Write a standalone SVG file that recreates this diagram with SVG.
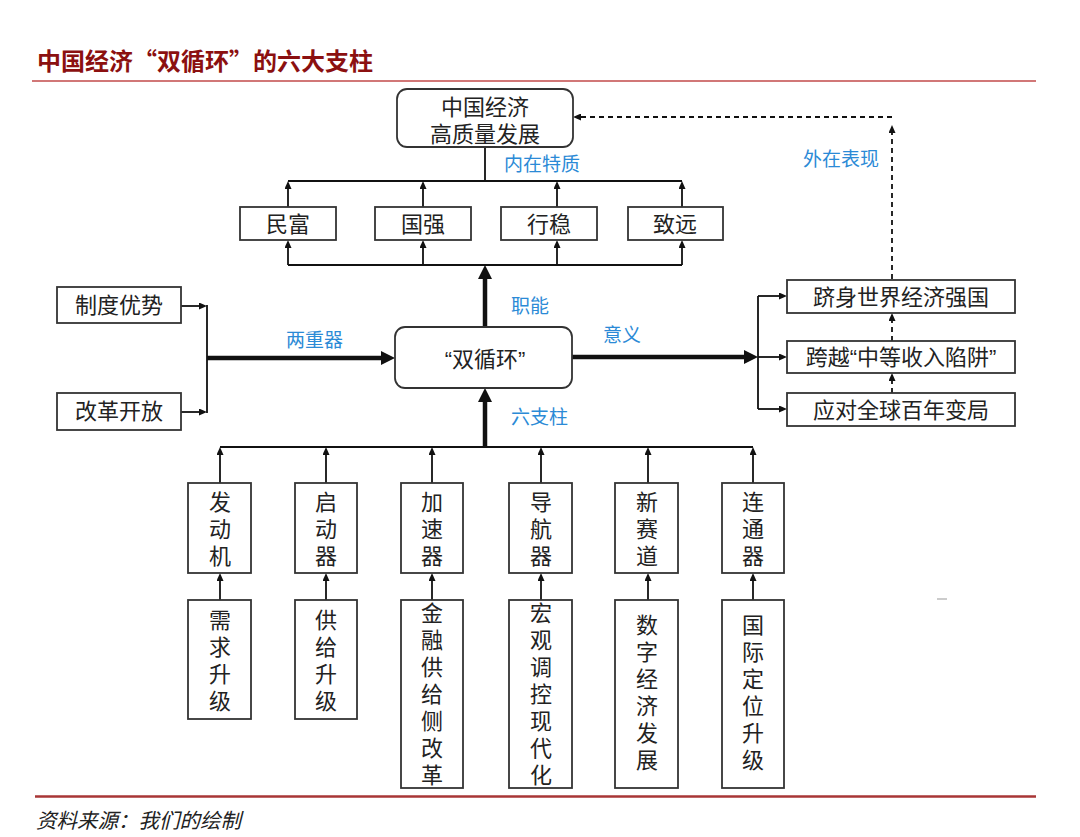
<svg xmlns="http://www.w3.org/2000/svg" width="1080" height="837" viewBox="0 0 1080 837">
<defs>
<style>
.box{fill:#fff;stroke:#333;stroke-width:1.8}
.t{font-family:"Liberation Sans","Noto Sans CJK SC",sans-serif;font-size:22px;fill:#222;text-anchor:middle}
.lb{font-family:"Noto Sans CJK SC",sans-serif;font-size:19px;fill:#2b8ad6}
.c{fill:none;stroke:#111;stroke-width:1.8}
.thin{marker-end:url(#ah)}
.thick{fill:none;stroke:#111;stroke-width:4.5;marker-end:url(#ahb)}
.dash{fill:none;stroke:#111;stroke-width:1.8;stroke-dasharray:5,4;marker-end:url(#ah)}
</style>
<marker id="ah" markerUnits="userSpaceOnUse" markerWidth="8" markerHeight="7" refX="0" refY="3.5" orient="auto"><path d="M0,0 L8,3.5 L0,7 z" fill="#111"/></marker>
<marker id="ahb" markerUnits="userSpaceOnUse" markerWidth="14" markerHeight="14" refX="0" refY="7" orient="auto"><path d="M0,0 L14,7 L0,14 z" fill="#111"/></marker>
</defs>
<rect width="1080" height="837" fill="#fff"/>
<text x="37" y="70" font-family="'Noto Sans CJK SC',sans-serif" font-size="24" font-weight="bold" fill="#8b1010">中国经济“双循环”的六大支柱</text>
<line x1="32" y1="81" x2="1036" y2="81" stroke="#c24a4a" stroke-width="1.5"/>
<line x1="35" y1="796.5" x2="1036" y2="796.5" stroke="#a83636" stroke-width="2.5"/>
<text x="36" y="828" font-family="'Noto Sans CJK SC',sans-serif" font-size="20.5" font-style="italic" fill="#222">资料来源：我们的绘制</text>
<line x1="937" y1="599" x2="947" y2="599" stroke="#bbb" stroke-width="1.5"/>

<g id="connectors">
<path class="c" d="M485,147 V181 M288,181 H682 M288,265 H682 M207,305 V413 M758,296 V409 M220,447 H753"/>
<path class="c thin" d="M288,207 V189"/>
<path class="c thin" d="M423,207 V189"/>
<path class="c thin" d="M557,207 V189"/>
<path class="c thin" d="M682,207 V189"/>
<path class="c thin" d="M288,265 V248"/>
<path class="c thin" d="M423,265 V248"/>
<path class="c thin" d="M557,265 V248"/>
<path class="c thin" d="M682,265 V248"/>
<path class="thick" d="M485,327 V279"/>
<path class="c thin" d="M181,306 H199"/>
<path class="c thin" d="M181,412 H199"/>
<path class="thick" d="M207,358 H381"/>
<path class="thick" d="M572,357 H744"/>
<path class="c thin" d="M758,296 H779"/>
<path class="c thin" d="M758,357 H779"/>
<path class="c thin" d="M758,409 H779"/>
<path class="dash" d="M892,279 V133"/>
<path class="dash" d="M892,117 H581"/>
<path class="dash" d="M892,341 V321"/>
<path class="dash" d="M892,393 V381"/>
<path class="thick" d="M485,447 V402"/>
<path class="c thin" d="M220,483 V455"/>
<path class="c thin" d="M326,483 V455"/>
<path class="c thin" d="M432,483 V455"/>
<path class="c thin" d="M541,483 V455"/>
<path class="c thin" d="M648,483 V455"/>
<path class="c thin" d="M753,483 V455"/>
<path class="c thin" d="M220,600 V581"/>
<path class="c thin" d="M326,600 V581"/>
<path class="c thin" d="M432,600 V581"/>
<path class="c thin" d="M541,600 V581"/>
<path class="c thin" d="M648,600 V581"/>
<path class="c thin" d="M753,600 V581"/>
</g>

<g id="labels">
<text class="lb" x="504" y="171">内在特质</text>
<text class="lb" x="286" y="347">两重器</text>
<text class="lb" x="511" y="313">职能</text>
<text class="lb" x="511" y="424">六支柱</text>
<text class="lb" x="603" y="342">意义</text>
<text class="lb" x="803" y="166">外在表现</text>
</g>

<g id="n-top"><rect class="box" x="397" y="89" width="176" height="58" rx="10"/><text class="t" x="485" y="115">中国经济</text><text class="t" x="485" y="142">高质量发展</text></g>
<g id="n-minfu"><rect class="box" x="240" y="207" width="96" height="33"/><text class="t" x="288" y="232">民富</text></g>
<g id="n-guoqiang"><rect class="box" x="375" y="207" width="96" height="33"/><text class="t" x="423" y="232">国强</text></g>
<g id="n-xingwen"><rect class="box" x="501" y="207" width="96" height="33"/><text class="t" x="549" y="232">行稳</text></g>
<g id="n-zhiyuan"><rect class="box" x="628" y="207" width="95" height="33"/><text class="t" x="675" y="232">致远</text></g>
<g id="n-shxh"><rect class="box" x="395" y="327" width="177" height="61" rx="10"/><text class="t" x="485" y="367">“双循环”</text></g>
<g id="n-zhidu"><rect class="box" x="57" y="287" width="124" height="36"/><text class="t" x="119" y="313">制度优势</text></g>
<g id="n-gaige"><rect class="box" x="57" y="393" width="124" height="37"/><text class="t" x="119" y="419">改革开放</text></g>
<g id="n-r1"><rect class="box" x="787" y="280" width="228" height="33"/><text class="t" x="901" y="305">跻身世界经济强国</text></g>
<g id="n-r2"><rect class="box" x="787" y="341" width="228" height="32"/><text class="t" x="901" y="365">跨越“中等收入陷阱”</text></g>
<g id="n-r3"><rect class="box" x="787" y="393" width="228" height="33"/><text class="t" x="901" y="418">应对全球百年变局</text></g>

<g id="n-fdj"><rect class="box" x="188" y="483" width="63" height="90"/><text class="t" x="220" y="510">发</text><text class="t" x="220" y="537">动</text><text class="t" x="220" y="564">机</text></g>
<g id="n-qdq"><rect class="box" x="295" y="483" width="62" height="90"/><text class="t" x="326" y="510">启</text><text class="t" x="326" y="537">动</text><text class="t" x="326" y="564">器</text></g>
<g id="n-jsq"><rect class="box" x="401" y="483" width="62" height="90"/><text class="t" x="432" y="510">加</text><text class="t" x="432" y="537">速</text><text class="t" x="432" y="564">器</text></g>
<g id="n-dhq"><rect class="box" x="509" y="483" width="63" height="90"/><text class="t" x="541" y="510">导</text><text class="t" x="541" y="537">航</text><text class="t" x="541" y="564">器</text></g>
<g id="n-xsd"><rect class="box" x="615" y="483" width="63" height="90"/><text class="t" x="647" y="510">新</text><text class="t" x="647" y="537">赛</text><text class="t" x="647" y="564">道</text></g>
<g id="n-ltq"><rect class="box" x="722" y="483" width="62" height="90"/><text class="t" x="753" y="510">连</text><text class="t" x="753" y="537">通</text><text class="t" x="753" y="564">器</text></g>

<g id="n-xqsj"><rect class="box" x="188" y="600" width="63" height="119"/><text class="t" x="220" y="628">需</text><text class="t" x="220" y="655">求</text><text class="t" x="220" y="682">升</text><text class="t" x="220" y="709">级</text></g>
<g id="n-gjsj"><rect class="box" x="295" y="600" width="62" height="119"/><text class="t" x="326" y="628">供</text><text class="t" x="326" y="655">给</text><text class="t" x="326" y="682">升</text><text class="t" x="326" y="709">级</text></g>
<g id="n-jrgg"><rect class="box" x="401" y="600" width="62" height="188"/><text class="t" x="432" y="621">金</text><text class="t" x="432" y="648">融</text><text class="t" x="432" y="675">供</text><text class="t" x="432" y="702">给</text><text class="t" x="432" y="729">侧</text><text class="t" x="432" y="756">改</text><text class="t" x="432" y="783">革</text></g>
<g id="n-hgtk"><rect class="box" x="509" y="600" width="63" height="188"/><text class="t" x="541" y="621">宏</text><text class="t" x="541" y="648">观</text><text class="t" x="541" y="675">调</text><text class="t" x="541" y="702">控</text><text class="t" x="541" y="729">现</text><text class="t" x="541" y="756">代</text><text class="t" x="541" y="783">化</text></g>
<g id="n-szjj"><rect class="box" x="615" y="600" width="63" height="188"/><text class="t" x="647" y="633">数</text><text class="t" x="647" y="660">字</text><text class="t" x="647" y="687">经</text><text class="t" x="647" y="714">济</text><text class="t" x="647" y="741">发</text><text class="t" x="647" y="768">展</text></g>
<g id="n-gjdw"><rect class="box" x="722" y="600" width="62" height="188"/><text class="t" x="753" y="633">国</text><text class="t" x="753" y="660">际</text><text class="t" x="753" y="687">定</text><text class="t" x="753" y="714">位</text><text class="t" x="753" y="741">升</text><text class="t" x="753" y="768">级</text></g>
</svg>
